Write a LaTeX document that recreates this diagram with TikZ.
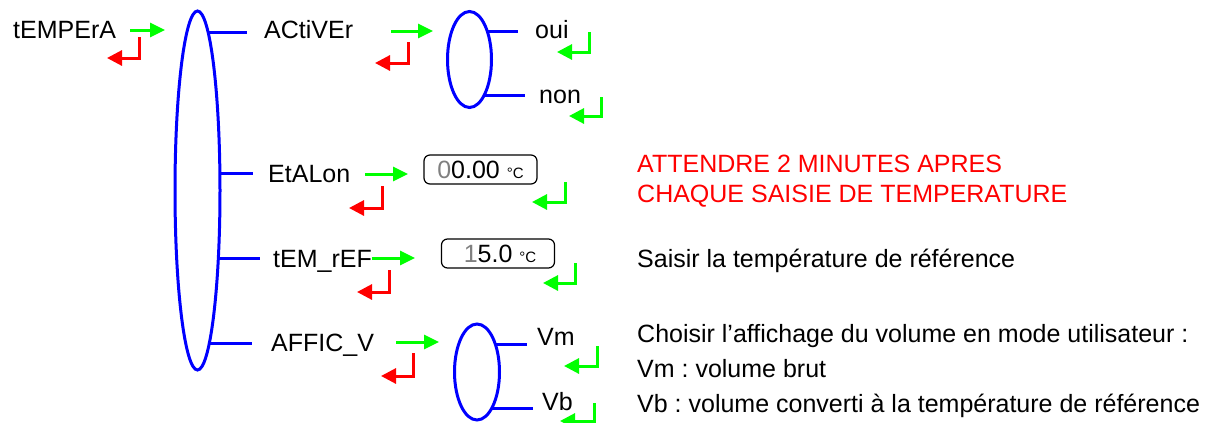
\documentclass[tikz,border=0pt]{standalone}
\usepackage{fontspec}
\setmainfont{Liberation Sans}
\usetikzlibrary{arrows.meta,shapes.geometric}
\definecolor{vgreen}{RGB}{0,255,0}
\definecolor{vred}{RGB}{255,0,0}
\definecolor{vblue}{RGB}{0,0,255}
\definecolor{dgray}{RGB}{128,128,128}
\newcommand{\degc}{{\fontsize{15}{17}\selectfont °C}}
\frenchspacing
\begin{document}
\begin{tikzpicture}[x=1pt,y=-1pt,
  lbl/.style={anchor=base west,inner sep=0pt,font=\fontsize{25}{30}\selectfont},
  fwd/.style={draw=vgreen,line width=3pt,-{Triangle[length=15pt,width=14pt]}},
  backr/.style={draw=vred,line width=3pt,-{Triangle[length=15pt,width=15pt]}},
  backg/.style={draw=vgreen,line width=3pt,-{Triangle[length=15pt,width=15pt]}},
  bl/.style={draw=vblue,line width=3pt},
  oval/.style={ellipse,draw=vblue,line width=3pt,inner sep=0pt},
  valbox/.style={draw,rounded corners=6pt,line width=1.2pt,minimum width=113pt,minimum height=29pt,inner sep=0pt,font=\fontsize{25}{30}\selectfont}]
\useasboundingbox (0,0) rectangle (1216,423);

% ovals
\node[oval,minimum width=45pt,minimum height=359pt] (E) at (197.5,190.5) {};
\node[oval,minimum width=44pt,minimum height=96pt] (E1) at (469.5,59.5) {};
\node[oval,minimum width=45pt,minimum height=96pt] (E2) at (477,372) {};

% labels
\node[lbl] (tempera) at (13,38) {tEMPErA};
\node[lbl] (activer) at (264,38) {ACtiVEr};
\node[lbl] (oui) at (535,38) {oui};
\node[lbl] (non) at (539,103) {non};
\node[lbl] (etalon) at (268,182) {EtALon};
\node[lbl] (temref) at (273,267) {tEM\_rEF};
\node[lbl] (affic) at (271,351) {AFFIC\_V};
\node[lbl] (vm) at (537,345) {Vm};
\node[lbl] (vb) at (542,410) {Vb};

% value boxes
\node[valbox] (box1) at (480.5,169.5) {\textcolor{dgray}{0}0.00 \degc};
\node[valbox] (box2) at (498,253.5) {\hspace{4pt}\textcolor{dgray}{1}5.0 \degc};

% right texts
\node[lbl,text=vred] (att1) at (637,172) {ATTENDRE 2 MINUTES APRES};
\node[lbl,text=vred] (att2) at (637,202) {CHAQUE SAISIE DE TEMPERATURE};
\node[lbl] (saisir) at (637,267) {Saisir la température de référence};
\node[lbl] (choisir) at (637,342) {Choisir l’affichage du volume en mode utilisateur :};
\node[lbl] (vmtxt) at (637,377) {Vm : volume brut};
\node[lbl] (vbtxt) at (637,412) {Vb : volume converti à la température de référence};

% branch lines
\coordinate (b1) at (208.1,32);  \coordinate (b1e) at (247,32);
\coordinate (b2) at (219.9,173); \coordinate (b2e) at (253,173);
\coordinate (b3) at (218.3,258); \coordinate (b3e) at (260,258);
\coordinate (b4) at (209.4,343); \coordinate (b4e) at (252,343);
\draw[bl] (b1) -- (b1e);
\draw[bl] (b2) -- (b2e);
\draw[bl] (b3) -- (b3e);
\draw[bl] (b4) -- (b4e);
\coordinate (c1) at (487.2,31); \coordinate (c1e) at (518,31);
\coordinate (c2) at (484.3,95); \coordinate (c2e) at (525,95);
\draw[bl] (c1) -- (c1e);
\draw[bl] (c2) -- (c2e);
\coordinate (d1) at (495.3,344); \coordinate (d1e) at (527,344);
\coordinate (d2) at (491.9,408); \coordinate (d2e) at (533,408);
\draw[bl] (d1) -- (d1e);
\draw[bl] (d2) -- (d2e);

% forward (green) arrows
\draw[fwd] (130,30) -- (165,30);
\draw[fwd] (391,31) -- (433,31);
\draw[fwd] (365,174) -- (408,174);
\draw[fwd] (372,258) -- (415,258);
\draw[fwd] (396,342) -- (439,342);

% red return arrows
\draw[backr] (139,37) |- (107,58);
\draw[backr] (408,42) |- (375,63);
\draw[backr] (382,186) |- (349,208);
\draw[backr] (389,270) |- (357,292);
\draw[backr] (413,353) |- (381,376);

% green return arrows
\draw[backg] (589,32) |- (557,52);
\draw[backg] (601,97) |- (569,116);
\draw[backg] (565,182) |- (532,202);
\draw[backg] (575,263) |- (543,283);
\draw[backg] (597,346) |- (564,366);
\draw[backg] (594,403) |- (560,421);
\end{tikzpicture}
\end{document}
